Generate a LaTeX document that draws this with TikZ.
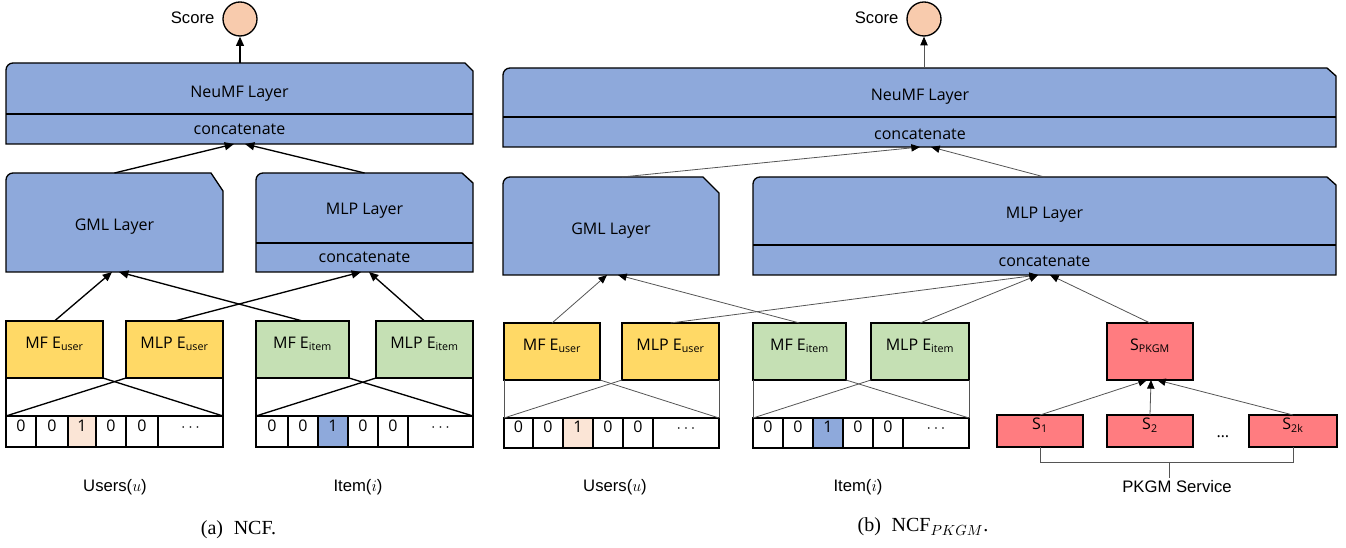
\documentclass[tikz,border=0pt]{standalone}
\usepackage{fontspec}
\setmainfont{Liberation Serif}
\newfontfamily\boxfont{Open Sans}
\newfontfamily\lblfont{Liberation Sans}
\usetikzlibrary{arrows.meta,fit}
\definecolor{layerblue}{HTML}{8EA9DB}
\definecolor{embyellow}{HTML}{FFD966}
\definecolor{embgreen}{HTML}{C5E0B4}
\definecolor{embred}{HTML}{FF7C80}
\definecolor{scorepeach}{HTML}{F8CBAD}
\definecolor{cellpeach}{HTML}{FBE5D6}
\definecolor{linegray}{HTML}{555555}
\tikzset{
  layerline/.style={draw=black, line width=1pt, fill=layerblue, line join=miter},
  btext/.style={font=\boxfont\fontsize{12}{14}\selectfont, inner sep=0pt},
  fitbox/.style={inner sep=0pt, outer sep=0pt, draw=black, line width=1pt, font=\boxfont\fontsize{12}{14}\selectfont},
  embU/.style={fitbox, fill=embyellow},
  embI/.style={fitbox, fill=embgreen},
  embR/.style={fitbox, fill=embred},
  cellbox/.style={fitbox, fill=white},
  lbl/.style={font=\lblfont\fontsize{12.5}{14}\selectfont, inner sep=1pt},
  capt/.style={font=\fontsize{15}{18}\selectfont, inner sep=0pt},
  circ/.style={circle, draw=black, line width=1pt, fill=scorepeach, minimum size=25.5pt, inner sep=0pt},
  arrA/.style={draw=black, line width=1pt, -{Triangle[length=7pt,width=6pt]}},
  arrB/.style={draw=linegray, line width=0.6pt, -{Triangle[length=6.5pt,width=5.5pt,color=black]}},
  plainA/.style={draw=black, line width=1pt},
  plainB/.style={draw=linegray, line width=0.6pt},
}
\newcommand{\layerbox}[7]{%
  \node[fit={(#2,-#3) (#4,-#5)}, inner sep=0pt, outer sep=0pt] (#1) {};
  \draw[layerline] (#2,-#5) -- (#2,-#3-7) arc(180:90:7) -- (#4-#6,-#3) -- (#4,-#3-#7) -- (#4,-#5) -- cycle;}
\begin{document}
\begin{tikzpicture}[x=0.75pt,y=0.75pt]
\useasboundingbox (0,0) rectangle (1346,-548);

% ================= Panel (a) =================
\layerbox{neumfA}{6}{63}{473}{144}{8}{8}
\draw[plainA] (6,-114) -- (473,-114);
\node[btext] (neumfAt) at (239.5,-94) {NeuMF Layer};
\node[btext] (neumfAc) at (239.5,-129) {concatenate};

\layerbox{gmlA}{6}{173}{223}{272}{12}{18}
\node[btext] (gmlAt) at (114.5,-227) {GML Layer};

\layerbox{mlpA}{256}{173}{473}{272}{11}{10}
\draw[plainA] (256,-243) -- (473,-243);
\node[btext] (mlpAt) at (364.5,-211) {MLP Layer};
\node[btext] (mlpAc) at (364.5,-257) {concatenate};

\node[circ] (scoreA) at (240,-19) {};
\node[lbl, anchor=east] (scoreAt) at (216,-18) {Score};
\draw[arrA] (neumfA.north -| scoreA) -- (scoreA.south);

\node[embU, fit={(6,-321) (103,-378)}] (mfuA) {MF E\textsubscript{user}};
\node[embU, fit={(126,-321) (223,-378)}] (mlpuA) {MLP E\textsubscript{user}};
\node[embI, fit={(256,-321) (349,-378)}] (mfiA) {MF E\textsubscript{item}};
\node[embI, fit={(376,-321) (473,-378)}] (mlpiA) {MLP E\textsubscript{item}};

% user vector
\node[cellbox, fit={(6,-416) (36,-447)}] (ua1) {0};
\node[cellbox, fit={(36,-416) (68,-447)}] (ua2) {0};
\node[cellbox, fill=cellpeach, fit={(68,-416) (96,-447)}] (ua3) {1};
\node[cellbox, fit={(96,-416) (126,-447)}] (ua4) {0};
\node[cellbox, fit={(126,-416) (158,-447)}] (ua5) {0};
\node[cellbox, fit={(158,-416) (223,-447)}] (ua6) {$\cdots$};
% item vector
\node[cellbox, fit={(256,-416) (288,-447)}] (ia1) {0};
\node[cellbox, fit={(288,-416) (318,-447)}] (ia2) {0};
\node[cellbox, fill=layerblue, fit={(318,-416) (348,-447)}] (ia3) {1};
\node[cellbox, fit={(348,-416) (378,-447)}] (ia4) {0};
\node[cellbox, fit={(378,-416) (408,-447)}] (ia5) {0};
\node[cellbox, fit={(408,-416) (473,-447)}] (ia6) {$\cdots$};

\draw[plainA] (mfuA.south west) -- (ua1.north west);
\draw[plainA] (mlpuA.south east) -- (ua6.north east);
\draw[plainA] (mfuA.south east) -- (ua6.north east);
\draw[plainA] (mlpuA.south west) -- (ua1.north west);
\draw[plainA] (mfiA.south west) -- (ia1.north west);
\draw[plainA] (mlpiA.south east) -- (ia6.north east);
\draw[plainA] (mfiA.south east) -- (ia6.north east);
\draw[plainA] (mlpiA.south west) -- (ia1.north west);

\coordinate (gA1) at (112,-272);
\coordinate (gA2) at (119,-272);
\coordinate (mA1) at (361,-272);
\coordinate (mA2) at (369,-272);
\coordinate (nA1) at (234,-144);
\coordinate (nA2) at (245,-144);
\draw[arrA] (mfuA.north) -- (gA1);
\draw[arrA] (mfiA.north) -- (gA2);
\draw[arrA] (mlpuA.north) -- (mA1);
\draw[arrA] (mlpiA.north) -- (mA2);
\draw[arrA] (gmlA.north) -- (nA1);
\draw[arrA] (mlpA.north) -- (nA2);

\node[lbl] (usersA) at (115,-487) {Users($u$)};
\node[lbl] (itemA) at (358,-487) {Item($i$)};
\node[capt] (capA) at (238.5,-530) {(a)\hspace{8pt}NCF.};

% ================= Panel (b) =================
\layerbox{neumfB}{503}{68}{1336}{147}{9}{8}
\draw[plainA] (503,-117) -- (1336,-117);
\node[btext] (neumfBt) at (920,-97) {NeuMF Layer};
\node[btext] (neumfBc) at (920,-134) {concatenate};

\layerbox{gmlB}{503}{177}{719}{275}{16}{16}
\node[btext] (gmlBt) at (611,-231) {GML Layer};

\layerbox{mlpB}{753}{177}{1336}{275}{9}{8}
\draw[plainA] (753,-245) -- (1336,-245);
\node[btext] (mlpBt) at (1044.5,-215) {MLP Layer};
\node[btext] (mlpBc) at (1044.5,-261) {concatenate};

\node[circ] (scoreB) at (924,-19) {};
\node[lbl, anchor=east] (scoreBt) at (900,-18) {Score};
\draw[arrB] (neumfB.north -| scoreB) -- (scoreB.south);

\node[embU, fit={(504,-323) (600,-380)}] (mfuB) {MF E\textsubscript{user}};
\node[embU, fit={(622,-323) (719,-380)}] (mlpuB) {MLP E\textsubscript{user}};
\node[embI, fit={(753,-323) (846,-380)}] (mfiB) {MF E\textsubscript{item}};
\node[embI, fit={(871,-323) (969,-380)}] (mlpiB) {MLP E\textsubscript{item}};
\node[embR, fit={(1107,-323) (1193,-380)}] (spkgm) {S\textsubscript{PKGM}};

\node[cellbox, fit={(504,-418) (533,-448)}] (ub1) {0};
\node[cellbox, fit={(533,-418) (563,-448)}] (ub2) {0};
\node[cellbox, fill=cellpeach, fit={(563,-418) (593,-448)}] (ub3) {1};
\node[cellbox, fit={(593,-418) (623,-448)}] (ub4) {0};
\node[cellbox, fit={(623,-418) (653,-448)}] (ub5) {0};
\node[cellbox, fit={(653,-418) (719,-448)}] (ub6) {$\cdots$};
\node[cellbox, fit={(753,-418) (783,-448)}] (ib1) {0};
\node[cellbox, fit={(783,-418) (813,-448)}] (ib2) {0};
\node[cellbox, fill=layerblue, fit={(813,-418) (843,-448)}] (ib3) {1};
\node[cellbox, fit={(843,-418) (873,-448)}] (ib4) {0};
\node[cellbox, fit={(873,-418) (903,-448)}] (ib5) {0};
\node[cellbox, fit={(903,-418) (969,-448)}] (ib6) {$\cdots$};

\draw[plainB] (mfuB.south west) -- (ub1.north west);
\draw[plainB] (mlpuB.south east) -- (ub6.north east);
\draw[plainB] (mfuB.south east) -- (ub6.north east);
\draw[plainB] (mlpuB.south west) -- (ub1.north west);
\draw[plainB] (mfiB.south west) -- (ib1.north west);
\draw[plainB] (mlpiB.south east) -- (ib6.north east);
\draw[plainB] (mfiB.south east) -- (ib6.north east);
\draw[plainB] (mlpiB.south west) -- (ib1.north west);

\node[embR, fit={(997,-415) (1083,-447)}] (s1) {S\textsubscript{1}};
\node[embR, fit={(1107,-415) (1193,-447)}] (s2) {S\textsubscript{2}};
\node[embR, fit={(1249,-415) (1337,-447)}] (s2k) {S\textsubscript{2k}};
\node[btext] (sdots) at (1223,-437) {\ldots};

\coordinate (sp1) at (1147,-380);
\coordinate (sp2) at (1151,-380);
\coordinate (sp3) at (1157,-380);
\draw[arrB] (s1.north) -- (sp1);
\draw[arrB] (s2.north) -- (sp2);
\draw[arrB] (s2k.north) -- (sp3);

\node[lbl, inner sep=2pt] (pkgm) at (1177,-487) {PKGM Service};
\draw[plainB] (s1.south) -- ++(0,-15) coordinate (brkL) -| (s2k.south);
\coordinate (brk) at (1169,-462);
\draw[plainB] (brk) -- (brk |- pkgm.north);

\coordinate (gBo) at (622,-177);
\coordinate (nB1) at (920,-147);
\coordinate (nB2) at (931,-147);
\coordinate (gB1) at (607,-275);
\coordinate (gB2) at (618,-275);
\coordinate (mB1) at (1038,-275);
\coordinate (mB2) at (1050,-275);
\draw[arrB] (gBo) -- (nB1);
\draw[arrB] (mlpB.north) -- (nB2);
\draw[arrB] (mfuB.north) -- (gB1);
\draw[arrB] (mfiB.north) -- (gB2);
\draw[arrB] (mlpuB.north) -- (mB1);
\draw[arrB] (mlpiB.north) -- (mB1);
\draw[arrB] (spkgm.north) -- (mB2);

\node[lbl] (usersB) at (615,-487) {Users($u$)};
\node[lbl] (itemB) at (858,-487) {Item($i$)};
\node[capt] (capB) at (923,-527) {(b)\hspace{8pt}NCF$_{PKGM}$.};
\end{tikzpicture}
\end{document}
